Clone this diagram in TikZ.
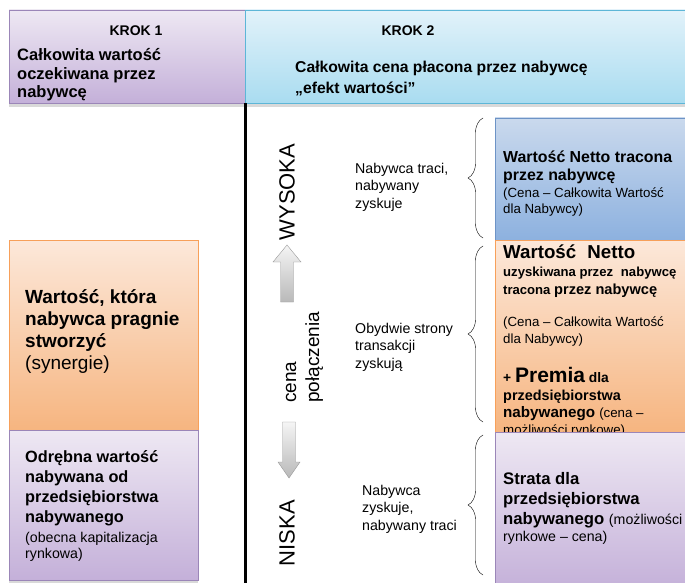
\documentclass[tikz,border=0pt]{standalone}
\usepackage{fontspec}
\setmainfont{Liberation Sans}
\usetikzlibrary{decorations.pathreplacing}

\definecolor{lilatop}{HTML}{EEE8F3}
\definecolor{lilabot}{HTML}{C4B0D9}
\definecolor{lilaline}{HTML}{9B86B8}
\definecolor{skytop}{HTML}{E2F2FA}
\definecolor{skybot}{HTML}{A9DCF0}
\definecolor{skyline}{HTML}{5DB6D7}
\definecolor{apricottop}{HTML}{FCE8DA}
\definecolor{apricotbot}{HTML}{F6B580}
\definecolor{apricotline}{HTML}{F7A05A}
\definecolor{steeltop}{HTML}{CAD9ED}
\definecolor{steelbot}{HTML}{8DB1DF}
\definecolor{steelline}{HTML}{6D93C6}

\begin{document}
\begin{tikzpicture}
  [x=1pt, y=-1pt,
   every node/.style = {inner sep=0pt, align=left, anchor=base west},
   lilabox/.style = {draw=lilaline, top color=lilatop, bottom color=lilabot},
   skybox/.style = {draw=skyline, top color=skytop, bottom color=skybot},
   apricotbox/.style = {draw=apricotline, top color=apricottop, bottom color=apricotbot},
   steelbox/.style = {draw=steelline, top color=steeltop, bottom color=steelbot},
   blockarrow/.style = {draw=gray!80, top color=gray!8, bottom color=gray!55},
   bracket/.style = {decorate, decoration={brace, amplitude=15pt}, thin},
   krok/.style = {anchor=base, font=\fontsize{14}{16}\selectfont\bfseries},
   note/.style = {font=\fontsize{14.2}{17.5}\selectfont},
   axis/.style = {rotate=90, font=\fontsize{22}{24}\selectfont}]
  \useasboundingbox (0,0) rectangle (685,583);

  % headers (multi-line nodes sit on the baseline of their last line)
  \fill [gray!30] (9,103) rectangle (685,107);
  \draw [lilabox] (9,10) rectangle (245,103);
  \draw [skybox] (245,10) rectangle (690,103);
  \node [krok] (krok1) at (136,36) {KROK 1};
  \node [krok] (krok2) at (408,36) {KROK 2};
  \node [font=\fontsize{16.5}{18.5}\selectfont\bfseries] (expected) at (17,98)
    {Całkowita wartość\\oczekiwana przez\\nabywcę};
  \node [font=\fontsize{15.7}{21}\selectfont\bfseries] (price) at (295,94)
    {Całkowita cena płacona przez nabywcę\\„efekt wartości”};

  % left column
  \fill [gray!30] (9,580) rectangle (198,583);
  \draw [apricotbox] (9,240) rectangle (198,430);
  \draw [lilabox] (9,430) rectangle (198,580);
  \node [font=\fontsize{19}{21.7}\selectfont\bfseries] (synergy) at (25,369)
    {Wartość, która\\nabywca pragnie\\stworzyć\\{\mdseries (synergie)}};
  \node [font=\fontsize{16.3}{19.7}\selectfont\bfseries] (standalone) at (25,522)
    {Odrębna wartość\\nabywana od\\przedsiębiorstwa\\nabywanego};
  \node [font=\fontsize{14.2}{16.5}\selectfont] (marketcap) at (25,558.5)
    {(obecna kapitalizacja\\rynkowa)};

  \draw [line width=3pt] (245,103) -- (245,583);

  % price axis
  \node [axis, anchor=center] (high) at (287,192) {WYSOKA};
  \node [axis, anchor=center] (low) at (287,533) {NISKA};
  \node [rotate=90, font=\fontsize{19}{23}\selectfont] (dealprice) at (319,403)
    {cena\\połączenia};
  \draw [blockarrow] (280.5,302) -- (280.5,262) -- (273,262) -- (287,245)
    -- (301,262) -- (293.5,262) -- (293.5,302) -- cycle;
  \draw [blockarrow] (282.5,422) -- (295.5,422) -- (295.5,462) -- (300,462)
    -- (289,478) -- (278,462) -- (282.5,462) -- cycle;

  \node [note] (buyerloses) at (355,208) {Nabywca traci,\\nabywany\\zyskuje};
  \node [note] (bothgain) at (355,368) {Obydwie strony\\transakcji\\zyskują};
  \node [note] (buyergains) at (362,530) {Nabywca\\zyskuje,\\nabywany traci};

  % right column
  \draw [steelbox] (495,118) rectangle (690,240);
  \draw [apricotbox] (495,240) rectangle (690,432);
  \node [font=\fontsize{15.9}{18}\selectfont\bfseries] (netlost) at (503,180)
    {Wartość Netto tracona\\przez nabywcę};
  \node [font=\fontsize{13.3}{16.5}\selectfont] (netlostnote) at (503,213.5)
    {(Cena – Całkowita Wartość\\dla Nabywcy)};
  \node [font=\fontsize{18.7}{20}\selectfont\bfseries] (netgain) at (503,258)
    {Wartość\hspace{0.6em}Netto};
  \node [font=\fontsize{13.1}{18}\selectfont\bfseries] (netgain2) at (503,294)
    {uzyskiwana przez\hspace{0.6em}nabywcę\\tracona {\fontsize{14.6}{18}\selectfont przez nabywcę}};
  \node [font=\fontsize{13.3}{17}\selectfont] (netgainnote) at (503,343)
    {(Cena – Całkowita Wartość\\dla Nabywcy)};
  \node [font=\fontsize{13.8}{20}\selectfont\bfseries] (premium) at (503,382)
    {+ {\fontsize{21}{20}\selectfont Premia} dla};
  \node [font=\fontsize{14.4}{17}\selectfont\bfseries] (premium2) at (503,434)
    {przedsiębiorstwa\\{\fontsize{15.2}{17}\selectfont nabywanego}
    {\mdseries\fontsize{13.3}{17}\selectfont (cena –}\\{\mdseries\fontsize{13.3}{17}\selectfont możliwości rynkowe)}};
  \draw [lilabox] (495,432) rectangle (690,590);
  \node [font=\fontsize{16.7}{20}\selectfont\bfseries] (loss) at (503,541)
    {Strata dla\\przedsiębiorstwa\\nabywanego {\mdseries\fontsize{14.2}{20}\selectfont (możliwości}\\[-3pt]
    {\mdseries\fontsize{14.2}{17}\selectfont rynkowe – cena)}};

  \coordinate (b1top) at (483,118);
  \coordinate (b1bot) at (483,238);
  \coordinate (b2top) at (483,246);
  \coordinate (b2bot) at (483,422);
  \coordinate (b3top) at (483,435);
  \coordinate (b3bot) at (483,575);
  \draw [bracket] (b1bot) -- (b1top);
  \draw [bracket] (b2bot) -- (b2top);
  \draw [bracket] (b3bot) -- (b3top);
\end{tikzpicture}
\end{document}
